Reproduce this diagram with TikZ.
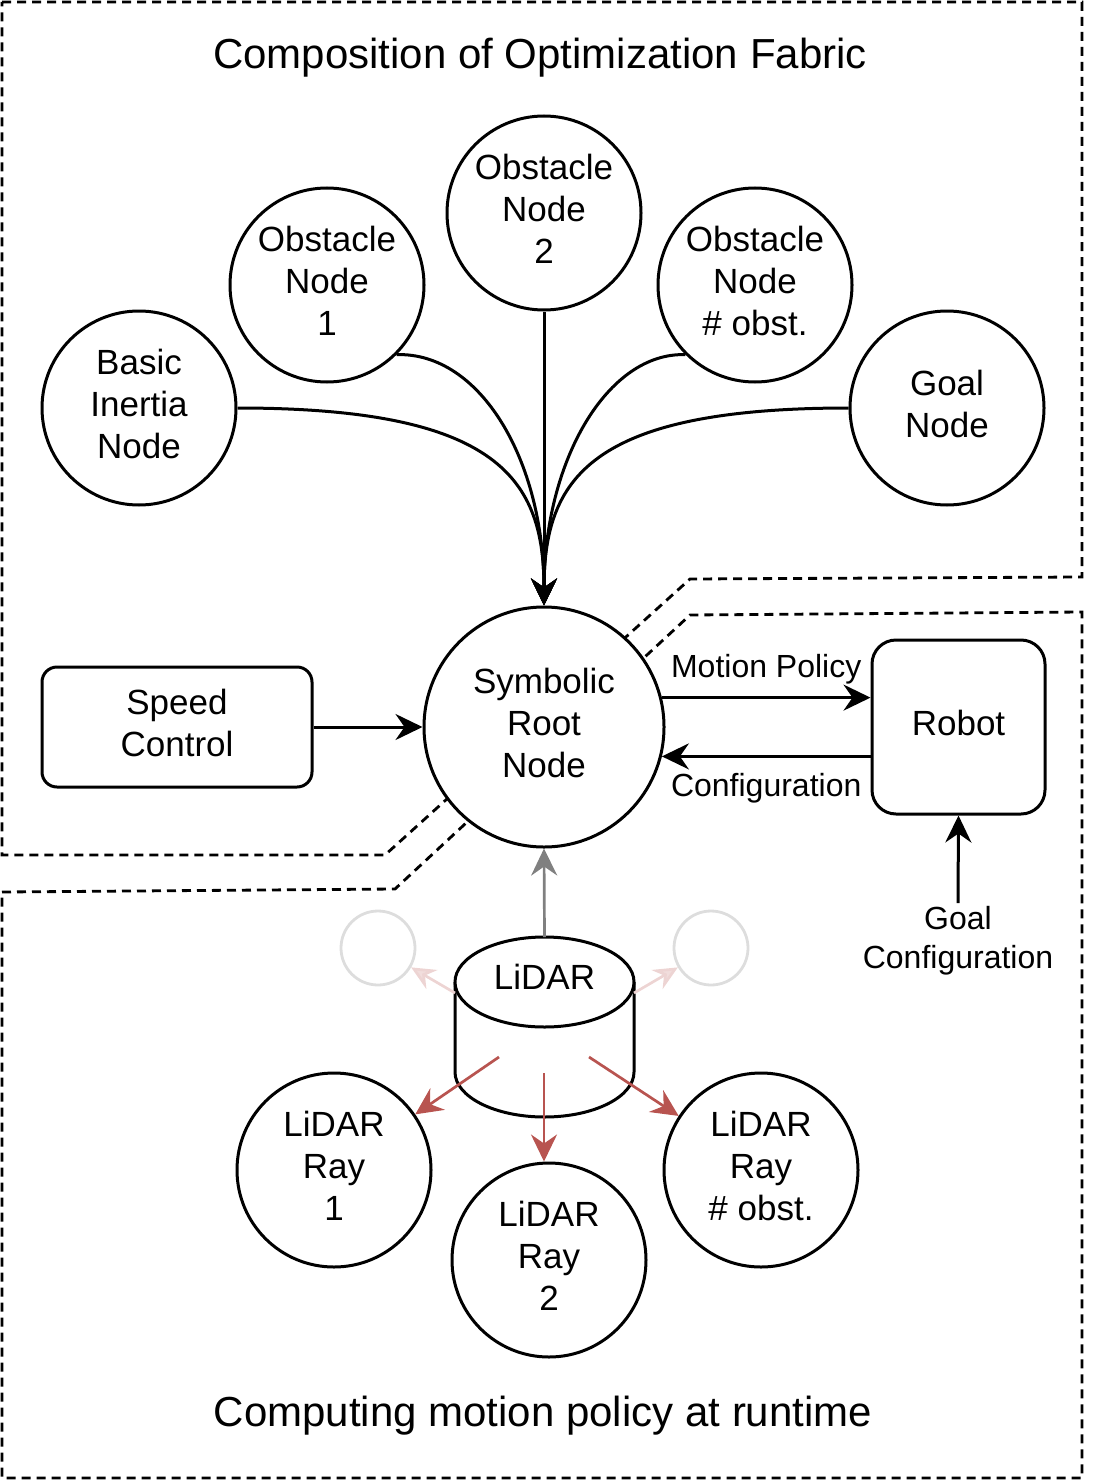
\documentclass[tikz,border=0pt]{standalone}
\usepackage{fontspec}
\setmainfont{Liberation Sans}
\usetikzlibrary{arrows.meta}
\definecolor{rayred}{HTML}{B85450}
\definecolor{faint}{HTML}{DDDDDD}
\begin{document}
\begin{tikzpicture}[x=1pt,y=-1pt,
  region/.style={line width=2.8pt, dash pattern=on 9pt off 6pt},
  bignode/.style={circle, draw, line width=3pt, minimum size=194pt, inner sep=0pt, align=center, fill=white, font=\fontsize{35}{42}\selectfont, text depth=9pt},
  boxnode/.style={draw, line width=3pt, align=center, fill=white, font=\fontsize{35}{42}\selectfont, text depth=9pt},
  title/.style={font=\fontsize{42}{50}\selectfont},
  lbl/.style={font=\fontsize{32}{39}\selectfont, align=center},
  tip/.style={-{Stealth[length=27pt,width=26pt,inset=9pt]}},
  arr/.style={tip, line width=3pt},
  redarr/.style={-{Stealth[length=27pt,width=26pt,inset=9pt]}, line width=2.7pt, draw=rayred, fill=rayred},
  fadearr/.style={-{Stealth[length=24pt,width=22pt,inset=8pt, fill=rayred!20]}, line width=2.7pt, draw=rayred!25},
  fadenode/.style={circle, draw=faint, line width=2.8pt, minimum size=74pt, inner sep=0pt}
]
\useasboundingbox (0,0) rectangle (1092,1482);

% regions
\draw[region] (2,2) -- (1082,2) -- (1082,577) -- (690,579) -- (385,855) -- (2,855) -- cycle;
\draw[region] (2,892) -- (395,889) -- (690,615) -- (1082,612) -- (1082,1478) -- (2,1478) -- cycle;

% titles
\node[title] (t1) at (540,58) {Composition of Optimization Fabric};
\node[title] (t2) at (543,1416) {Computing motion policy at runtime};

% top nodes
\node[bignode] (bin) at (139,408) {Basic\\Inertia\\Node};
\node[bignode] (o1) at (327,285) {Obstacle\\Node\\1};
\node[bignode] (o2) at (544,213) {Obstacle\\Node\\2};
\node[bignode] (o3) at (755,285) {Obstacle\\Node\\\# obst.};
\node[bignode] (goal) at (947,408) {Goal\\Node};

% root
\node[bignode, minimum size=240pt] (root) at (544,727) {Symbolic\\Root\\Node};

\node[boxnode, rounded corners=15pt, minimum width=270pt, minimum height=120pt] (sc) at (177,727) {Speed\\Control};
\node[boxnode, rounded corners=24pt, minimum width=173pt, minimum height=174pt] (robot) at (958.5,727) {Robot};

\node[lbl] (gc) at (958,941) {Goal\\Configuration};

% curves into root
\draw[arr] (bin.east) .. controls (500,408) and (544,480) .. (root.north);
\draw[arr] (o1.-45) .. controls (480,352) and (544,460) .. (root.north);
\draw[arr] (o2.south) -- (root.north);
\draw[arr] (o3.-135) .. controls (608,352) and (544,460) .. (root.north);
\draw[arr] (goal.west) .. controls (588,408) and (544,480) .. (root.north);

% root connections
\draw[arr] (sc.east) -- (root.west);
\draw[arr] (root.14.5) -- (root.14.5 -| robot.west) node[lbl, midway, above=9pt] (mp) {Motion Policy};
\draw[arr] (root.-14.5 -| robot.west) -- (root.-14.5) node[lbl, midway, below=12pt] (cf) {Configuration};
\draw[arr] (gc.north) -- (robot.south);

% LiDAR cylinder
\draw[line width=3pt, fill=white] (455,982) -- (455,1072)
  .. controls (455,1096.9) and (495.1,1117) .. (544.5,1117)
  .. controls (593.9,1117) and (634,1096.9) .. (634,1072) -- (634,982);
\draw[line width=3pt, fill=white] (544.5,982) ellipse [x radius=89.5pt, y radius=45pt];
\node[font=\fontsize{35}{42}\selectfont] (lidar) at (544.5,977) {LiDAR};
\coordinate (ltop) at (544.5,937);
\coordinate (lleft) at (455,993);
\coordinate (lright) at (634,993);
\coordinate (r1s) at (499,1057);
\coordinate (r2s) at (544,1073);
\coordinate (r3s) at (589,1057);

% faded circles
\node[fadenode] (fl) at (378,948) {};
\node[fadenode] (fr) at (711,948) {};
\draw[fadearr] (lleft) -- (fl);
\draw[fadearr] (lright) -- (fr);

% gray arrow
\draw[-{Stealth[length=27pt,width=26pt,inset=9pt]}, line width=2.7pt, draw=gray, fill=gray] (ltop) -- (root.south);

% rays
\node[bignode] (r1) at (334,1170) {LiDAR\\Ray\\1};
\node[bignode] (r2) at (549,1260) {LiDAR\\Ray\\2};
\node[bignode] (r3) at (761,1170) {LiDAR\\Ray\\\# obst.};
\draw[redarr] (r1s) -- (r1);
\draw[redarr] (r2s) -- (r2s |- r2.north);
\draw[redarr] (r3s) -- (r3);
\end{tikzpicture}
\end{document}
